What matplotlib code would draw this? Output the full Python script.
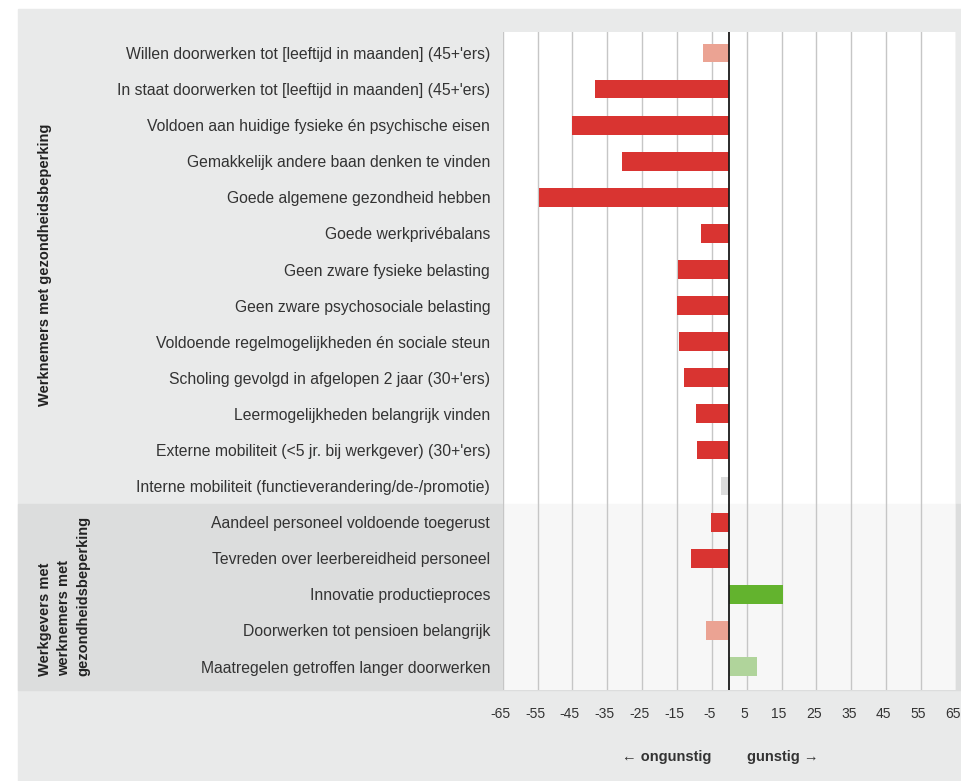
import matplotlib
matplotlib.use('Agg')
import matplotlib.pyplot as plt
from matplotlib.patches import Rectangle
from matplotlib.transforms import blended_transform_factory, ScaledTranslation

plt.rcParams['font.family'] = ['Liberation Sans', 'DejaVu Sans']

# Data
labels = [
    "Willen doorwerken tot [leeftijd in maanden] (45+'ers)",
    "In staat doorwerken tot [leeftijd in maanden] (45+'ers)",
    "Voldoen aan huidige fysieke én psychische eisen",
    "Gemakkelijk andere baan denken te vinden",
    "Goede algemene gezondheid hebben",
    "Goede werkprivébalans",
    "Geen zware fysieke belasting",
    "Geen zware psychosociale belasting",
    "Voldoende regelmogelijkheden én sociale steun",
    "Scholing gevolgd in afgelopen 2 jaar (30+'ers)",
    "Leermogelijkheden belangrijk vinden",
    "Externe mobiliteit (<5 jr. bij werkgever) (30+'ers)",
    "Interne mobiliteit (functieverandering/de-/promotie)",
    "Aandeel personeel voldoende toegerust",
    "Tevreden over leerbereidheid personeel",
    "Innovatie productieproces",
    "Doorwerken tot pensioen belangrijk",
    "Maatregelen getroffen langer doorwerken",
]
values = [-7.5, -38.4, -45.2, -30.9, -54.7, -8.1, -14.7, -15.0, -14.4,
          -12.9, -9.5, -9.2, -2.4, -5.2, -10.9, 15.3, -6.7, 7.9]
# categorie per balk: sterk/zwak ongunstig, neutraal, sterk/zwak gunstig
kind = ['zo', 'so', 'so', 'so', 'so', 'so', 'so', 'so', 'so',
        'so', 'so', 'so', 'n', 'so', 'so', 'sg', 'zo', 'zg']
kleuren = {'so': '#d93431', 'zo': '#eba393', 'n': '#dcdcdc',
           'sg': '#63b32e', 'zg': '#b0d49b'}
ticks = list(range(-65, 66, 10))
groepen = ["Werknemers met gezondheidsbeperking",
           "Werkgevers met\nwerknemers met\ngezondheidsbeperking"]

W, H = 961, 781
fig = plt.figure(figsize=(W / 100, H / 100), dpi=100)
fig.patch.set_facecolor('white')

# grijs paneel en donkere band voor de tweede groep (pixelcoordinaten)
def px_rect(x0, y0, x1, y1, color):
    fig.patches.append(Rectangle((x0 / W, 1 - y1 / H), (x1 - x0) / W, (y1 - y0) / H,
                                 transform=fig.transFigure, color=color, zorder=-5))

px_rect(18, 9, W, H, '#e9eaea')
px_rect(18, 504, W, 690, '#dcdddd')

ax = fig.add_axes([502.7 / W, 1 - 690 / H, (955.9 - 502.7) / W, 658 / H])
ax.set_zorder(1)
ax.set_facecolor('white')
ax.set_xlim(-65, 65)
ax.set_ylim(17.65, -0.58)
ax.axhspan(12.5, 17.65, color='#f7f7f7', zorder=0)

for t in ticks:
    ax.axvline(t, color='#c6c6c6', lw=1.0, zorder=1)

y = list(range(len(labels)))
ax.barh(y, values, height=0.52, color=[kleuren[k] for k in kind], zorder=2)
ax.axvline(0, color='#1a1a1a', lw=1.3, zorder=3)

for s in ax.spines.values():
    s.set_visible(False)

ax.set_yticks(y)
ax.set_yticklabels(labels, fontsize=11.3, color='#333333')
ax.set_xticks(ticks)
ax.set_xticklabels([str(t) for t in ticks], fontsize=10, color='#333333')
ax.tick_params(axis='y', length=0, pad=9)
ax.tick_params(axis='x', length=0, pad=12)
# labels iets naar links zodat "65" binnen de rand valt
shift = ScaledTranslation(-2.5 / 100, 0, fig.dpi_scale_trans)
for lab in ax.get_xticklabels():
    lab.set_transform(lab.get_transform() + shift)

tr = blended_transform_factory(ax.transData, ax.transAxes)
ax.text(-5, -0.102, '← ongunstig', transform=tr, ha='right', va='center',
        fontsize=10.5, fontweight='bold', color='#333333')
ax.text(5, -0.102, 'gunstig →', transform=tr, ha='left', va='center',
        fontsize=10.5, fontweight='bold', color='#333333')

fig.text(45 / W, 1 - 265 / H, groepen[0], rotation=90, ha='center', va='center',
         fontsize=10.5, fontweight='bold', color='#222222')
fig.text(64 / W, 1 - 596 / H, groepen[1], rotation=90, ha='center', va='center',
         multialignment='left', linespacing=1.45, fontsize=10.5,
         fontweight='bold', color='#222222')

fig.savefig('out.png', dpi=100)
